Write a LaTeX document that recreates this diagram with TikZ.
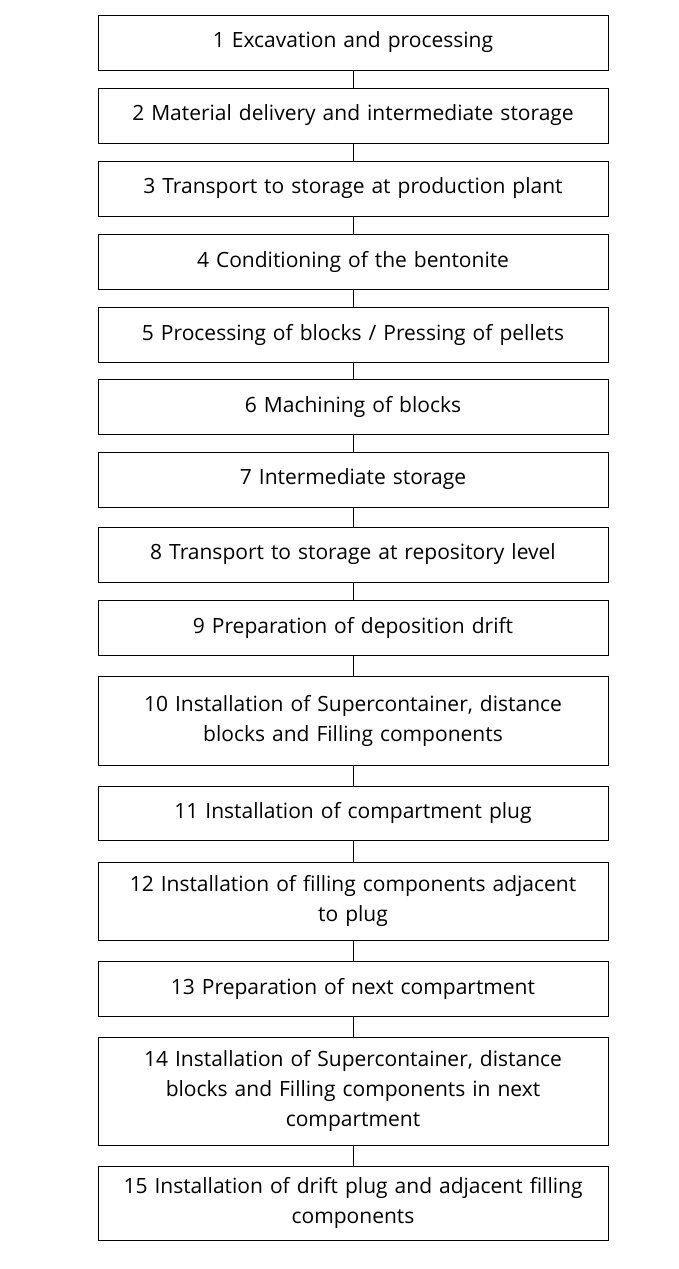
\documentclass[tikz,border=0pt]{standalone}
\usepackage{fontspec}
\setmainfont{Open Sans}
\begin{document}
\begin{tikzpicture}[x=1pt,y=-1pt,
  bx/.style={draw,line width=1pt,minimum width=510pt,align=center,text width=500pt,inner sep=0pt,font=\fontsize{21}{30}\selectfont}]
\useasboundingbox[fill=white] (0,0) rectangle (678,1269);
\def\B#1#2#3#4{\node[bx,minimum height=#3-#2] (#1) at (353,{(#2+#3)/2}) {#4};}
\B{n1}{15}{70}{1 Excavation and processing}
\B{n2}{88}{143}{2 Material delivery and intermediate storage}
\B{n3}{161}{216}{3 Transport to storage at production plant}
\B{n4}{234}{289}{4 Conditioning of the bentonite}
\B{n5}{307}{362}{5 Processing of blocks / Pressing of pellets}
\B{n6}{379}{434}{6 Machining of blocks}
\B{n7}{452}{507}{7 Intermediate storage}
\B{n8}{527}{582}{8 Transport to storage at repository level}
\B{n9}{600}{655}{9 Preparation of deposition drift}
\B{n10}{676}{765}{10 Installation of Supercontainer, distance\\blocks and Filling components}
\B{n11}{786}{840}{11 Installation of compartment plug}
\B{n12}{862}{940}{12 Installation of filling components adjacent\\to plug}
\B{n13}{961}{1016}{13 Preparation of next compartment}
\B{n14}{1037}{1145}{14 Installation of Supercontainer, distance\\blocks and Filling components in next\\compartment}
\B{n15}{1166}{1240}{15 Installation of drift plug and adjacent filling\\components}
\foreach \a/\b in {n1/n2,n2/n3,n3/n4,n4/n5,n5/n6,n6/n7,n7/n8,n8/n9,n9/n10,n10/n11,n11/n12,n12/n13,n13/n14,n14/n15}
  \draw[line width=1pt] (\a.south) -- (\b.north);
\end{tikzpicture}
\end{document}
